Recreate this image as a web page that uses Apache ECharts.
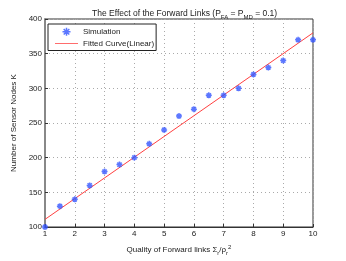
<!DOCTYPE html>
<html><head><meta charset="utf-8">
<script src="https://cdn.jsdelivr.net/npm/echarts@6/dist/echarts.min.js"></script>
<style>html,body{margin:0;padding:0;background:#fff}#c{width:346px;height:261px}</style>
</head><body><div id="c"></div>
<script>
const xValues = [1,1.5,2,2.5,3,3.5,4,4.5,5,5.5,6,6.5,7,7.5,8,8.5,9,9.5,10];
const simValues = [100,130,140,160,180,190,200,220,240,260,270,290,290,300,320,330,340,370,370];
const fitX = [1,10];
const fitY = [111,380];
const xTicks = [1,2,3,4,5,6,7,8,9,10];
const yTicks = [100,150,200,250,300,350,400];

const F = 'Liberation Sans, Arial, sans-serif';
const star = 'path://M0,-10L0,10M-10,0L10,0M-7,-7L7,7M-7,7L7,-7';
const chart = echarts.init(document.getElementById('c'));
chart.setOption({
  animation:false,
  title:{
    text:'The Effect of the Forward Links (P{s|FA} = P{s|MD} = 0.1)',
    left:87, top:3,
    textStyle:{fontFamily:F,fontSize:8.5,fontWeight:'normal',color:'#222',
      rich:{s:{fontFamily:F,fontSize:6,verticalAlign:'bottom',padding:[6,0,0,0],color:'#222'}}}
  },
  grid:{left:45,right:33,top:19,bottom:29,show:true,borderColor:'#333',borderWidth:1,backgroundColor:'#fff'},
  legend:{
    left:48, top:24, orient:'vertical', backgroundColor:'#fff',
    borderColor:'#222', borderWidth:1, padding:[3,2,3,7], itemGap:3,
    itemWidth:23, itemHeight:8,
    textStyle:{fontFamily:F,fontSize:8,color:'#222'},
    data:[
      {name:'Simulation', icon:star, itemStyle:{color:'rgba(0,0,0,0)',borderColor:'#3355ff',borderWidth:1.5}},
      {name:'Fitted Curve(Linear)', icon:'path://M0,0L30,0L30,1L0,1Z', itemStyle:{color:'#ff4040',borderWidth:0}}
    ]
  },
  xAxis:{
    type:'value', min:1, max:10, interval:1,
    name:'Quality of Forward links Σ{s|r}/ρ{s|r}{p|2}', nameLocation:'middle', nameGap:17,
    nameTextStyle:{fontFamily:F,fontSize:8,color:'#222',
      rich:{s:{fontFamily:F,fontSize:6,verticalAlign:'bottom',padding:[5,0,0,0],color:'#222'},
            p:{fontFamily:F,fontSize:6,verticalAlign:'top',padding:[0,0,6,0],color:'#222'}}},
    axisLine:{lineStyle:{color:'#333'}},
    axisTick:{inside:true,length:3,lineStyle:{color:'#333'}},
    axisLabel:{fontFamily:F,fontSize:8,color:'#222',margin:3},
    splitLine:{show:true,lineStyle:{type:[1,3],color:'#aaa'}}
  },
  yAxis:{
    type:'value', min:100, max:400, interval:50,
    name:'Number of Sensor Nodes K', nameLocation:'middle', nameGap:21,
    nameTextStyle:{fontFamily:F,fontSize:8,color:'#222'},
    axisLine:{show:true,lineStyle:{color:'#888',width:2}},
    axisTick:{show:true,inside:true,length:3,lineStyle:{color:'#333'}},
    axisLabel:{fontFamily:F,fontSize:8,color:'#222',margin:3},
    splitLine:{show:true,lineStyle:{type:[1,3],color:'#aaa'}}
  },
  series:[
    {name:'Simulation', type:'scatter', symbol:star, symbolSize:6,
     itemStyle:{color:'rgba(0,0,0,0)',borderColor:'#3355ff',borderWidth:1.5},
     data:xValues.map((x,i)=>[x,simValues[i]]), z:3},
    {name:'Fitted Curve(Linear)', type:'line', symbol:'none',
     lineStyle:{color:'#ff4040',width:1},
     itemStyle:{color:'#ff4040'},
     data:fitX.map((x,i)=>[x,fitY[i]]), z:2}
  ]
});
</script></body></html>
